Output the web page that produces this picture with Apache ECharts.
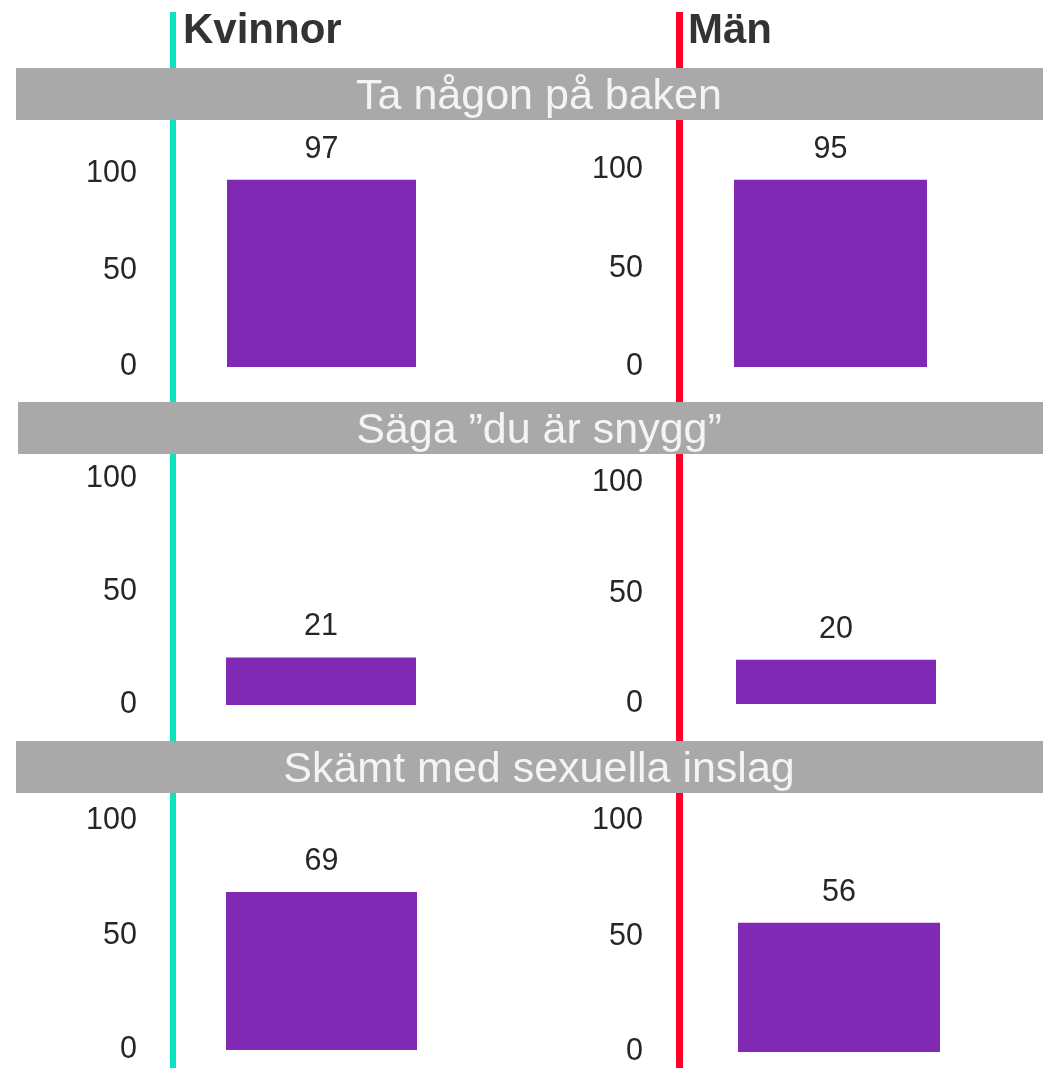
<!DOCTYPE html>
<html>
<head>
<meta charset="utf-8">
<script src="https://cdn.jsdelivr.net/npm/echarts@6/dist/echarts.min.js"></script>
<style>
html,body{margin:0;padding:0;background:#fff;}
#main{width:1043px;height:1071px;}
</style>
</head>
<body>
<div id="main"></div>
<script>
// ---- data ----
const categories = ['Ta någon på baken', 'Säga ”du är snygg”', 'Skämt med sexuella inslag'];
const groups = ['Kvinnor', 'Män'];
const kvinnor = [97, 21, 69];
const man = [95, 20, 56];
const yTicks = [0, 50, 100];

// ---- layout (pixels) ----
const FONT = '"Liberation Sans", Arial, sans-serif';
const panels = [
  {left: 227, width: 189, top: 174, height: 193, labelRight: 137},
  {left: 734, width: 193, top: 170, height: 197, labelRight: 643},
  {left: 226, width: 190, top: 479, height: 226, labelRight: 137},
  {left: 736, width: 200, top: 483, height: 221, labelRight: 643},
  {left: 226, width: 191, top: 821, height: 229, labelRight: 137},
  {left: 738, width: 202, top: 821, height: 231, labelRight: 643}
];
const bannerY = [68, 402, 741];
const bannerX = [16, 18, 16];

const grids = [], xAxes = [], yAxes = [], series = [];
panels.forEach((p, i) => {
  const row = Math.floor(i / 2), col = i % 2;
  const value = col === 0 ? kvinnor[row] : man[row];
  grids.push({left: p.left, top: p.top, width: p.width, height: p.height, containLabel: false});
  xAxes.push({type: 'category', gridIndex: i, data: [categories[row]], show: false});
  yAxes.push({
    type: 'value', gridIndex: i,
    min: yTicks[0], max: yTicks[yTicks.length - 1], interval: yTicks[1] - yTicks[0],
    axisLine: {show: false}, axisTick: {show: false}, splitLine: {show: false},
    axisLabel: {margin: p.left - p.labelRight, fontSize: 30.5, color: '#262626', fontFamily: FONT}
  });
  series.push({
    type: 'bar', xAxisIndex: i, yAxisIndex: i, name: groups[col],
    data: [value], barWidth: '100%',
    itemStyle: {color: '#7f29b4'},
    label: {show: true, position: 'top', distance: 15, fontSize: 30.5, color: '#262626', fontFamily: FONT},
    silent: true
  });
});

const graphic = [
  {type: 'rect', shape: {x: 170, y: 12, width: 6, height: 1056}, style: {fill: '#0be3be'}, z: 1},
  {type: 'rect', shape: {x: 676, y: 12, width: 7, height: 1056}, style: {fill: '#ff0029'}, z: 1},
  {type: 'text', x: 183, y: 31, style: {text: groups[0], fontSize: 42, fontWeight: 'bold', fill: '#333333', fontFamily: FONT, verticalAlign: 'middle'}, z: 3},
  {type: 'text', x: 688, y: 31, style: {text: groups[1], fontSize: 42, fontWeight: 'bold', fill: '#333333', fontFamily: FONT, verticalAlign: 'middle'}, z: 3}
];
categories.forEach((c, r) => {
  graphic.push({type: 'rect', shape: {x: bannerX[r], y: bannerY[r], width: 1043 - bannerX[r], height: 52}, style: {fill: '#a9a9a9'}, z: 2});
  graphic.push({type: 'text', x: 539, y: bannerY[r] + 29, style: {text: c, fontSize: 43, fill: '#f4f4f4', fontFamily: FONT, align: 'center', verticalAlign: 'middle'}, z: 3});
});

const chart = echarts.init(document.getElementById('main'), null, {renderer: 'canvas'});
chart.setOption({
  animation: false,
  backgroundColor: '#ffffff',
  grid: grids, xAxis: xAxes, yAxis: yAxes, series: series,
  graphic: graphic
});
</script>
</body>
</html>
